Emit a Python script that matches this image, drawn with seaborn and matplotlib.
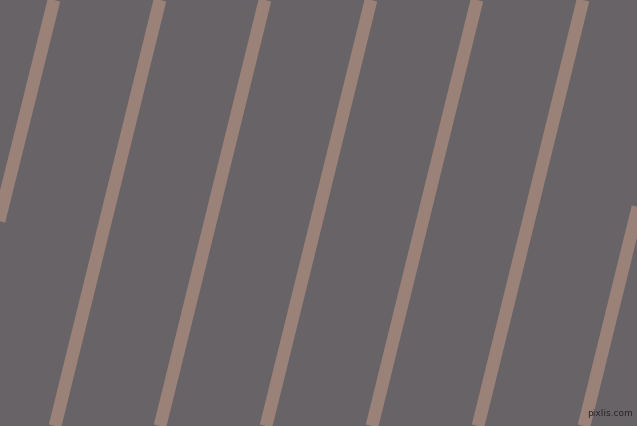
import pandas as pd
import seaborn as sns
import matplotlib.pyplot as plt

# Stripe positions (pixel x at the top edge y=0 and bottom edge y=426)
stripe_ids = [0, 1, 2, 3, 4, 5, 6, 7]
top_x = [-52, 54, 160, 265, 371, 477, 583, 689]
bottom_x = [-158, -52, 55, 160, 266, 372, 478, 584]
edge_y = [0, 426]

background = "#686366"
stripe_color = "#9b8279"

rows = []
for sid, xt, xb in zip(stripe_ids, top_x, bottom_x):
    rows.append({"stripe": sid, "x": xt, "y": edge_y[0]})
    rows.append({"stripe": sid, "x": xb, "y": edge_y[1]})
df = pd.DataFrame(rows)

sns.set_theme(style="white")
fig = plt.figure(figsize=(6.37, 4.26), dpi=100)
ax = fig.add_axes([0, 0, 1, 1])
ax.set_facecolor(background)

sns.lineplot(
    data=df, x="x", y="y", units="stripe", estimator=None, sort=False,
    color=stripe_color, linewidth=9.2, ax=ax,
)
for line in ax.lines:
    line.set_solid_capstyle("butt")

ax.set_xlim(0, 637)
ax.set_ylim(426, 0)
ax.set_axis_off()
fig.patch.set_facecolor(background)

ax.text(633, 418, "pixlis.com", color="#2a2628", fontsize=6.5,
        ha="right", va="bottom", family=["DejaVu Sans"])

fig.savefig("out.png", dpi=100, facecolor=background)
